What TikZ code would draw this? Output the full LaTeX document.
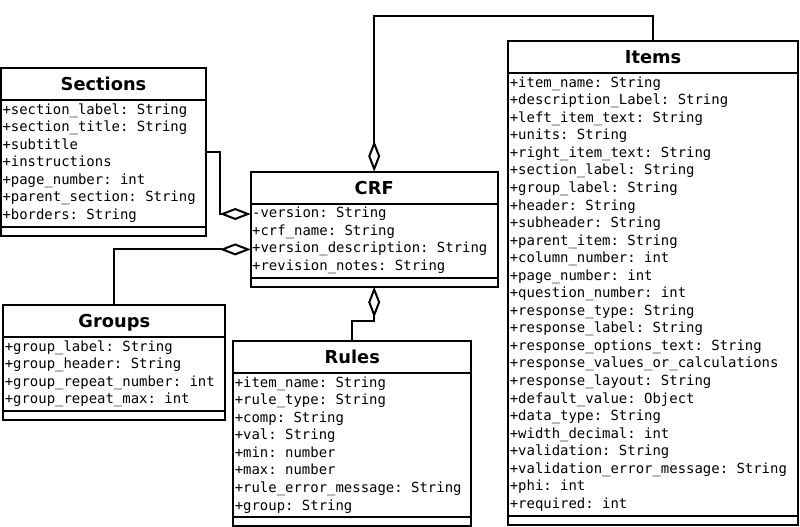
\documentclass[tikz,border=0pt]{standalone}
\usepackage{fontspec}
\setmonofont{DejaVu Sans Mono}
\setsansfont{DejaVu Sans}
\usetikzlibrary{shapes.multipart,arrows.meta,calc}

\tikzset{
  umlclass/.style={draw, line width=2pt, fill=white, outer sep=0pt,
    rectangle split, rectangle split parts=3,
    rectangle split part align={center,left,left},
    rectangle split empty part height=5.2pt, rectangle split empty part depth=0pt,
    inner xsep=1.5pt, inner ysep=0.9pt, anchor=north west,
    font=\fontsize{13.95}{17.55}\selectfont\ttfamily},
  agg/.style={line width=2pt, -{Diamond[fill=white,length=31pt,width=12pt]}},
}
\newcommand{\classtitle}[1]{{\fontsize{17.8}{20}\selectfont\sffamily\bfseries\rule[-7.3pt]{0pt}{28.2pt}#1}}
\newcommand{\attrs}[1]{\begin{tabular}{@{}l@{}}#1\end{tabular}}

\begin{document}
\begin{tikzpicture}[x=1pt,y=-1pt]
\useasboundingbox (0,0) rectangle (800,527);

\node[umlclass, minimum width=205pt] (Sections) at (1,68) {\classtitle{Sections}
  \nodepart{two}\attrs{+section\_label: String\\+section\_title: String\\+subtitle\\+instructions\\
  +page\_number: int\\+parent\_section: String\\+borders: String}};

\node[umlclass, minimum width=247pt] (CRF) at (250.7,171.7) {\classtitle{CRF}
  \nodepart{two}\attrs{-version: String\\+crf\_name: String\\+version\_description: String\\
  +revision\_notes: String}};

\node[umlclass, minimum width=222pt] (Groups) at (3.3,305) {\classtitle{Groups}
  \nodepart{two}\attrs{+group\_label: String\\+group\_header: String\\+group\_repeat\_number: int\\
  +group\_repeat\_max: int}};

\node[umlclass, minimum width=238pt] (Rules) at (233.3,341) {\classtitle{Rules}
  \nodepart{two}\attrs{+item\_name: String\\+rule\_type: String\\+comp: String\\+val: String\\
  +min: number\\+max: number\\+rule\_error\_message: String\\+group: String}};

\node[umlclass, minimum width=289.5pt] (Items) at (508.3,41) {\classtitle{Items}
  \nodepart{two}\attrs{+item\_name: String\\+description\_Label: String\\+left\_item\_text: String\\
  +units: String\\+right\_item\_text: String\\+section\_label: String\\+group\_label: String\\
  +header: String\\+subheader: String\\+parent\_item: String\\+column\_number: int\\
  +page\_number: int\\+question\_number: int\\+response\_type: String\\
  +response\_label: String\\+response\_options\_text: String\\
  +response\_values\_or\_calculations\\+response\_layout: String\\
  +default\_value: Object\\+data\_type: String\\+width\_decimal: int\\
  +validation: String\\+validation\_error\_message: String\\+phi: int\\+required: int}};

\coordinate (crfA) at ($(CRF.text split west)+(0,10.3)$);
\coordinate (crfC) at ($(CRF.text split west)+(0,45.7)$);

\draw[agg] (Sections.east) -| ($(crfA)+(-31,0)$) -- (crfA);
\draw[agg] (Groups.north) |- (crfC);
\draw[agg] (Rules.north) -- ++(0,-20) -| (CRF.south);
\draw[agg] (Items.north) -- ++(0,-25.3) -| (CRF.north);
\end{tikzpicture}
\end{document}
